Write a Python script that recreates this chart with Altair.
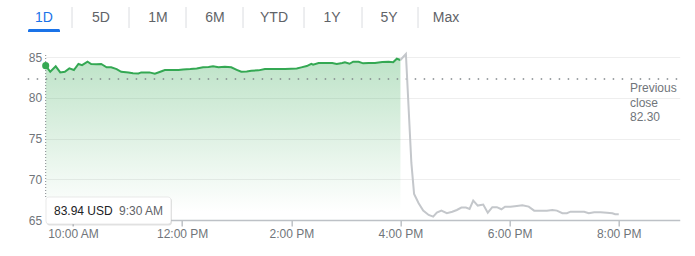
import altair as alt
import pandas as pd

# ---------------- data ----------------
green_times = ["9:30", "9:35", "9:41", "9:46", "9:51", "9:56", "10:01", "10:06", "10:10", "10:16",
               "10:20", "10:26", "10:31", "10:37", "10:42", "10:48", "10:53", "11:01", "11:06", "11:12",
               "11:15", "11:24", "11:30", "11:36", "11:41", "11:48", "11:56", "12:01", "12:09", "12:16",
               "12:23", "12:29", "12:34", "12:40", "12:47", "12:54", "13:00", "13:05", "13:11", "13:16",
               "13:24", "13:31", "13:38", "13:46", "13:53", "14:00", "14:06", "14:11", "14:17", "14:22",
               "14:24", "14:30", "14:37", "14:45", "14:50", "14:56", "14:59", "15:04", "15:08", "15:14",
               "15:19", "15:25", "15:32", "15:40", "15:47", "15:52", "15:56", "16:00"]
green_prices = [83.94, 83.19, 83.85, 83.11, 83.19, 83.60, 83.40, 84.14, 84.00, 84.42,
                84.14, 84.10, 84.14, 83.73, 83.73, 83.52, 83.19, 83.11, 83.02, 82.99,
                83.11, 83.11, 82.94, 83.19, 83.40, 83.40, 83.40, 83.48, 83.52, 83.60,
                83.73, 83.77, 83.85, 83.73, 83.80, 83.73, 83.43, 83.19, 83.23, 83.31,
                83.36, 83.52, 83.52, 83.52, 83.52, 83.56, 83.60, 83.73, 83.89, 84.17,
                84.05, 84.26, 84.26, 84.26, 84.14, 84.26, 84.35, 84.17, 84.42, 84.42,
                84.22, 84.26, 84.26, 84.38, 84.42, 84.35, 84.79, 84.63]
gray_times = ["16:00", "16:06", "16:12", "16:15", "16:20", "16:25", "16:31", "16:36", "16:40", "16:45",
              "16:51", "16:57", "17:02", "17:07", "17:12", "17:16", "17:20", "17:25", "17:31", "17:36",
              "17:41", "17:46", "17:51", "17:55", "18:01", "18:08", "18:14", "18:21", "18:27", "18:34",
              "18:41", "18:47", "18:52", "18:58", "19:03", "19:07", "19:14", "19:22", "19:27", "19:33",
              "19:40", "19:47", "19:53", "19:56", "20:00"]
gray_prices = [84.63, 85.37, 72.00, 68.20, 67.06, 66.15, 65.62, 65.41, 65.90, 66.15,
               65.83, 66.02, 66.23, 66.52, 66.52, 66.36, 67.38, 66.77, 66.89, 65.90,
               66.57, 66.57, 66.32, 66.64, 66.64, 66.73, 66.81, 66.64, 66.15, 66.15,
               66.15, 66.23, 66.15, 65.83, 65.83, 66.02, 66.02, 66.02, 65.83, 65.95,
               65.95, 65.90, 65.83, 65.70, 65.70]
prev_close = 82.30
x_tick_minutes = [600, 720, 840, 960, 1080, 1200]
x_tick_labels = ["10:00 AM", "12:00 PM", "2:00 PM", "4:00 PM", "6:00 PM", "8:00 PM"]
y_ticks = [65, 70, 75, 80, 85]
tabs = ["1D", "5D", "1M", "6M", "YTD", "1Y", "5Y", "Max"]
hover_time_label = "9:30 AM"

# ---------------- layout (pixels) ----------------
PAD_L, PAD_T = 45.7, 57
W, H = 634, 163
tab_centers = [44, 101, 158, 215, 274, 332, 389, 446]
sep_x = [72, 129, 186, 243, 304, 362, 418]
FONT = "Arial"
GREEN = "#34a853"
GRAY_LINE = "#c4c7cb"
TXT = "#70757a"


def to_min(t):
    h, m = t.split(":")
    return int(h) * 60 + int(m)


green = pd.DataFrame({"t": [to_min(t) for t in green_times], "p": green_prices})
gray = pd.DataFrame({"t": [to_min(t) for t in gray_times], "p": gray_prices})
first = green.iloc[[0]]
one = pd.DataFrame({"k": [0]})

label_expr = "[" + ",".join("'%s'" % s for s in x_tick_labels) + "][indexof([" + \
    ",".join(str(v) for v in x_tick_minutes) + "], datum.value)]"

xscale = alt.Scale(domain=[570, 1267], nice=False, zero=False)
yscale = alt.Scale(domain=[65, 85], nice=False, zero=False)

xenc = alt.X("t:Q", scale=xscale, axis=alt.Axis(
    values=x_tick_minutes, labelExpr=label_expr, grid=False, title=None,
    domainColor="#bdc1c6", domainWidth=1.5, tickColor="#bdc1c6", tickWidth=1.5,
    tickSize=6, labelColor=TXT, labelFontSize=12, labelFont=FONT, labelPadding=2,
    labelOverlap=False, labelFlush=False))
yenc = alt.Y("p:Q", scale=yscale, axis=alt.Axis(
    values=y_ticks, grid=True, gridColor="#eeeeee", gridWidth=1, domain=False, ticks=False,
    title=None, labelColor=TXT, labelFontSize=12, labelFont=FONT, labelPadding=4))

area = alt.Chart(green).mark_area(
    color=alt.Gradient(
        gradient="linear",
        stops=[alt.GradientStop(color="rgba(52,168,83,0.32)", offset=0),
               alt.GradientStop(color="rgba(52,168,83,0.0)", offset=0.95)],
        x1=1, x2=1, y1=0, y2=1)
).encode(x=xenc, y=yenc, y2=alt.datum(65))

prev_rule = alt.Chart(one).mark_rule(color="#80868b", strokeWidth=1.5, strokeDash=[1.5, 7.5]).encode(
    y=alt.datum(prev_close, scale=yscale), x=alt.value(-18), x2=alt.value(632))

hover_rule = alt.Chart(one).mark_rule(color="#80868b", strokeWidth=1, strokeDash=[1, 2]).encode(
    x=alt.datum(570, scale=xscale), y=alt.value(-2), y2=alt.value(140))

green_line = alt.Chart(green).mark_line(color=GREEN, strokeWidth=2).encode(x="t:Q", y="p:Q")
gray_line = alt.Chart(gray).mark_line(color=GRAY_LINE, strokeWidth=2).encode(x="t:Q", y="p:Q")
dot = alt.Chart(first).mark_circle(color=GREEN, size=50, opacity=1).encode(x="t:Q", y="p:Q")

# tooltip box
shadow = alt.Chart(one).mark_rect(color="#000000", opacity=0.12, cornerRadius=3).encode(
    x=alt.value(0.8), x2=alt.value(126.3), y=alt.value(141), y2=alt.value(168.5))
box = alt.Chart(one).mark_rect(color="#ffffff", stroke="#e3e3e3", strokeWidth=0.8, cornerRadius=3).encode(
    x=alt.value(0.3), x2=alt.value(125.3), y=alt.value(140), y2=alt.value(167))
tip_price = alt.Chart(one).mark_text(align="left", baseline="middle", font=FONT, fontSize=12,
                                     color="#202124").encode(
    x=alt.value(8.3), y=alt.value(153.7), text=alt.value("%.2f USD" % green_prices[0]))
tip_time = alt.Chart(one).mark_text(align="left", baseline="middle", font=FONT, fontSize=12,
                                    color="#5f6368").encode(
    x=alt.value(73.3), y=alt.value(153.7), text=alt.value(hover_time_label))

prev_text = alt.Chart(one).mark_text(align="left", baseline="middle", font=FONT, fontSize=12,
                                     color=TXT, lineBreak="\n", lineHeight=14.5).encode(
    x=alt.value(584.3), y=alt.value(31.2), text=alt.value("Previous\nclose\n%.2f" % prev_close))

layers = [area, prev_rule, hover_rule, green_line, gray_line, dot, shadow, box, tip_price, tip_time, prev_text]

# tab bar
for i, (lab, cx) in enumerate(zip(tabs, tab_centers)):
    layers.append(alt.Chart(one).mark_text(align="center", baseline="middle", font=FONT, fontSize=14,
                                           color="#1a73e8" if i == 0 else "#5f6368").encode(
        x=alt.value(cx - PAD_L), y=alt.value(18 - PAD_T), text=alt.value(lab)))
for sx in sep_x:
    layers.append(alt.Chart(one).mark_rule(color="#dadce0", strokeWidth=1).encode(
        x=alt.value(sx - PAD_L), y=alt.value(7 - PAD_T), y2=alt.value(28 - PAD_T)))
layers.append(alt.Chart(one).mark_rect(color="#1a73e8", cornerRadiusTopLeft=3, cornerRadiusTopRight=3).encode(
    x=alt.value(28 - PAD_L), x2=alt.value(60 - PAD_L), y=alt.value(29 - PAD_T), y2=alt.value(32 - PAD_T)))

chart = alt.layer(*layers).properties(
    width=W, height=H,
    autosize=alt.AutoSizeParams(type="none"),
    padding={"left": PAD_L, "top": PAD_T, "right": 695 - PAD_L - W, "bottom": 256 - PAD_T - H},
    background="white",
).configure_view(stroke=None)

chart.save("out.html", embed_options={"renderer": "svg", "actions": False})
